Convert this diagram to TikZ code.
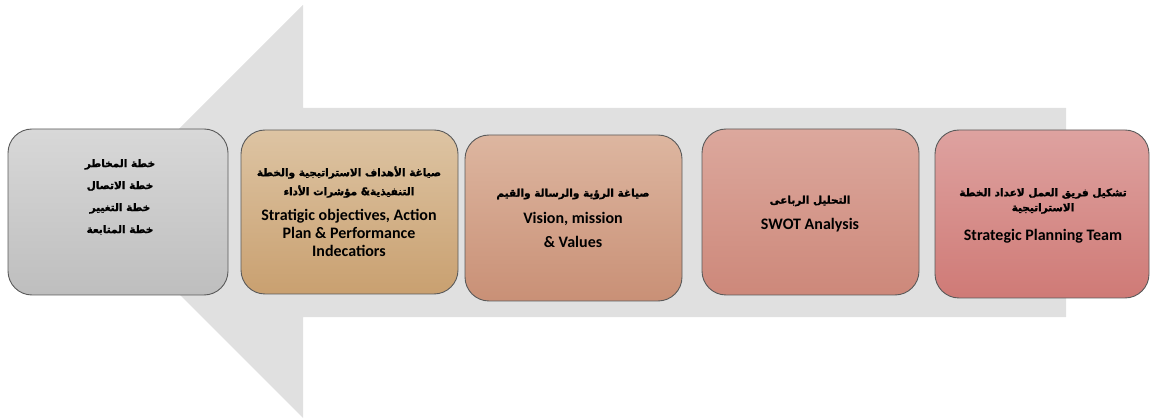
\documentclass[tikz,border=0pt]{standalone}
\usepackage{fontspec}
\setmainfont{Carlito}
\newfontfamily\arfont[Script=Arabic, BoldFeatures={FakeBold=1.5}]{DejaVu Sans}
\TeXXeTstate=1
\definecolor{arrowgray}{HTML}{E0E0E0}
\definecolor{edgegray}{HTML}{5A5A5A}
\begin{document}
\begin{tikzpicture}[x=1pt,y=-1pt,
  stagebox/.style={draw=edgegray, line width=0.9pt, rounded corners=24pt, shade},
  artext/.style={align=center, font=\arfont\bfseries\fontsize{10.5}{19}\selectfont, inner sep=0pt},
  entext/.style={align=center, font=\bfseries\fontsize{16}{18}\selectfont, inner sep=0pt}]
\useasboundingbox (0,0) rectangle (1150,419);
\fill[arrowgray] (1066,108) -- (303,108) -- (303,5) -- (96.5,211.5) -- (303,418) -- (303,317) -- (1066,317) -- cycle;
% boxes
\path[stagebox, top color={rgb,255:red,216;green,216;blue,216}, bottom color={rgb,255:red,190;green,190;blue,190}] (8,129) rectangle (228,295);
\node (b1) at (118,212) {};
\path[stagebox, top color={rgb,255:red,221;green,196;blue,163}, bottom color={rgb,255:red,201;green,160;blue,112}] (241,130) rectangle (458,294);
\node (b2) at (349.5,212) {};
\path[stagebox, top color={rgb,255:red,221;green,182;blue,160}, bottom color={rgb,255:red,201;green,144;blue,118}] (465,135) rectangle (682,301);
\node (b3) at (573.5,218) {};
\path[stagebox, top color={rgb,255:red,220;green,168;blue,157}, bottom color={rgb,255:red,205;green,136;blue,122}] (702,129) rectangle (919,295);
\node (b4) at (810.5,212) {};
\path[stagebox, top color={rgb,255:red,222;green,162;blue,160}, bottom color={rgb,255:red,207;green,122;blue,118}] (935,130) rectangle (1149,298);
\node (b5) at (1042,214) {};
% texts
\node[artext, font=\arfont\bfseries\fontsize{10.5}{22}\selectfont] (t1) at (120,197) {\beginR خطة المخاطر\endR\\ \beginR خطة الاتصال\endR\\ \beginR خطة التغيير\endR\\ \beginR خطة المتابعة\endR};
\node[artext] (t2a) at (349,182) {\beginR صياغة الأهداف الاستراتيجية والخطة\endR\\ \beginR التنفيذية\& مؤشرات الأداء\endR};
\node[entext] (t2e) at (349,233) {Stratigic objectives, Action\\ Plan \& Performance\\ Indecatiors};
\node[artext] (t3a) at (573,194) {\beginR صياغة الرؤية والرسالة والقيم\endR};
\node[entext, font=\bfseries\fontsize{16}{24}\selectfont] (t3e) at (573,230) {Vision, mission\\ \& Values};
\node[artext] (t4a) at (810,201) {\beginR التحليل الرباعى\endR};
\node[entext] (t4e) at (810,225) {SWOT Analysis};
\node[artext, font=\arfont\bfseries\fontsize{10.5}{15}\selectfont] (t5a) at (1043,201) {\beginR تشكيل فريق العمل لاعداد الخطة\endR\\ \beginR الاستراتيجية\endR};
\node[entext] (t5e) at (1043,236) {Strategic Planning Team};
\end{tikzpicture}
\end{document}
